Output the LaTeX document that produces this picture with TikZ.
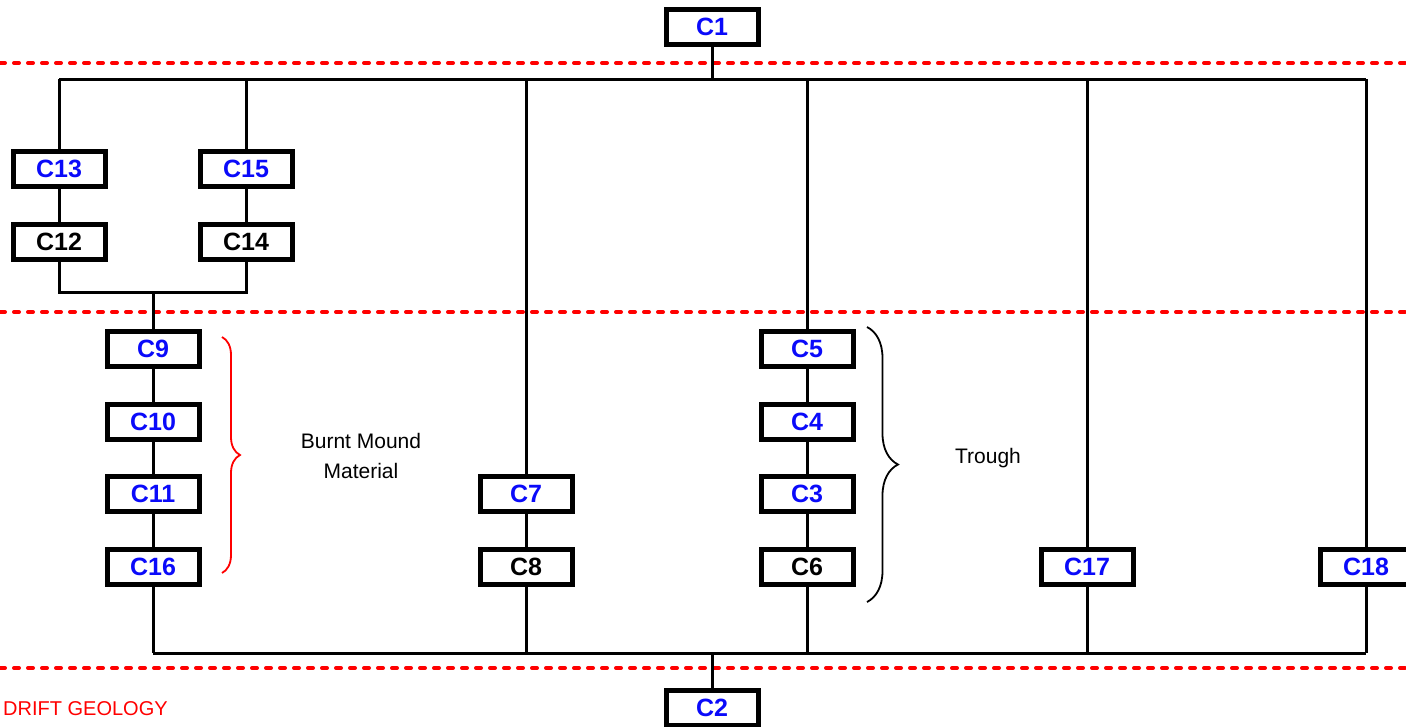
\documentclass[tikz,border=0pt]{standalone}
\usepackage{fontspec}
\setmainfont{Liberation Sans}
\usetikzlibrary{decorations.pathreplacing}
\definecolor{labelblue}{RGB}{10,10,250}
\begin{document}
\begin{tikzpicture}[x=1pt,y=-1pt,
  wire/.style={line width=3pt},
  cbox/.style={draw, line width=5pt, fill=white, minimum width=92pt,
    minimum height=35pt, inner sep=0pt,
    font=\fontsize{25}{28}\selectfont\bfseries},
  blu/.style={cbox, text=labelblue},
  blk/.style={cbox, text=black},
  horizon/.style={red, line width=4pt, dash pattern=on 5pt off 9pt, line cap=round},
  note/.style={font=\fontsize{21}{30}\selectfont, align=center, inner sep=0pt},
  bracket/.style={line width=1.8pt, decorate}
]
\useasboundingbox (0,0) rectangle (1406,726);
\clip (0,0) rectangle (1406,726);

% horizons
\draw[horizon] (0,63) -- (1406,63);
\draw[horizon] (0,312) -- (1406,312);
\draw[horizon] (0,668) -- (1406,668);

% contexts
\node[blu] (C1)  at (712,27)  {C1};
\node[blu] (C13) at (59,169)  {C13};
\node[blk] (C12) at (59,242)  {C12};
\node[blu] (C15) at (246,169) {C15};
\node[blk] (C14) at (246,242) {C14};
\node[blu] (C9)  at (153,349) {C9};
\node[blu] (C10) at (153,422) {C10};
\node[blu] (C11) at (153,494) {C11};
\node[blu] (C16) at (153,567) {C16};
\node[blu] (C7)  at (526,494) {C7};
\node[blk] (C8)  at (526,567) {C8};
\node[blu] (C5)  at (807,349) {C5};
\node[blu] (C4)  at (807,422) {C4};
\node[blu] (C3)  at (807,494) {C3};
\node[blk] (C6)  at (807,567) {C6};
\node[blu] (C17) at (1087,567) {C17};
\node[blu] (C18) at (1366,567) {C18};
\node[blu] (C2)  at (712,708) {C2};

% bar ends and junctions
\coordinate (tL) at (59,79);
\coordinate (tR) at (1366,79);
\coordinate (jY) at (0,292);
\coordinate (jM) at (153,292);
\coordinate (bL) at (153,653);
\coordinate (bR) at (1366,653);

% top bar and branches
\draw[wire] (tL) -- (tR);
\draw[wire] (C1) -- (C1 |- tL);
\draw[wire] (C13) -- (tL);
\draw[wire] (C15) -- (C15 |- tL);
\draw[wire] (C7) -- (C7 |- tL);
\draw[wire] (C5) -- (C5 |- tL);
\draw[wire] (C17) -- (C17 |- tL);
\draw[wire] (C18) -- (tR);

% left pair joining into C9
\draw[wire] (C13) -- (C12);
\draw[wire] (C15) -- (C14);
\draw[wire] (C12) -- (C12 |- jY) -- (C14 |- jY) -- (C14);
\draw[wire] (jM) -- (C9);

% sequences
\draw[wire] (C9) -- (C10);
\draw[wire] (C10) -- (C11);
\draw[wire] (C11) -- (C16);
\draw[wire] (C7) -- (C8);
\draw[wire] (C5) -- (C4);
\draw[wire] (C4) -- (C3);
\draw[wire] (C3) -- (C6);

% bottom bar
\draw[wire] (bL) -- (bR);
\draw[wire] (C16) -- (bL);
\draw[wire] (C8) -- (C8 |- bL);
\draw[wire] (C6) -- (C6 |- bL);
\draw[wire] (C17) -- (C17 |- bL);
\draw[wire] (C18) -- (bR);
\draw[wire] (C2) -- (C2 |- bL);

% boxes over the wires
\foreach \n/\s in {C1/blu,C13/blu,C12/blk,C15/blu,C14/blk,C9/blu,C10/blu,C11/blu,C16/blu,
  C7/blu,C8/blk,C5/blu,C4/blu,C3/blu,C6/blk,C17/blu,C18/blu,C2/blu}
  {\node[\s] at (\n) {\n};}

% braces and notes
\coordinate (r1) at (222,337);
\coordinate (r2) at (222,573);
\draw[bracket, red, decoration={brace, amplitude=18pt}] (r1) -- (r2);
\coordinate (k1) at (867,327);
\coordinate (k2) at (867,602);
\draw[bracket, black, decoration={brace, amplitude=31pt}] (k1) -- (k2);

\node[note] (bmm) at (361,456) {Burnt Mound\\Material};
\node[note] (trough) at (988,458) {Trough};
\node[red, anchor=west, inner sep=0pt, font=\fontsize{20}{24}\selectfont] (drift) at (3,709) {DRIFT GEOLOGY};
\end{tikzpicture}
\end{document}
